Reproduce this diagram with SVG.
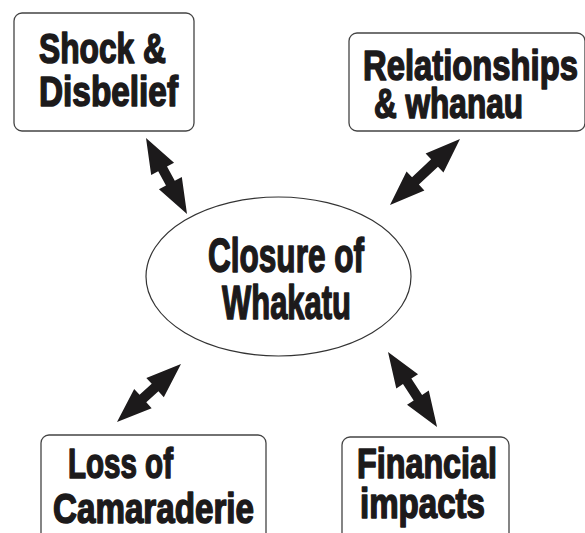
<svg xmlns="http://www.w3.org/2000/svg" width="585" height="533" viewBox="0 0 585 533">
<style>
.box{fill:#fff;stroke:#444;stroke-width:1.3}
.oval{fill:#fff;stroke:#333;stroke-width:1.2}
.t{font-family:"Liberation Sans",Arial,sans-serif;font-weight:bold;font-size:42px;fill:#1c1a1b;stroke:#1c1a1b;stroke-width:1.6;stroke-linejoin:round}
.tc{font-size:48px}
.arr{fill:#1c1a1b}
</style>
<rect width="585" height="533" fill="#fff"/>
<g id="connectors">
<path class="arr" transform="translate(146,138) rotate(61.65)" d="M0,0 L35,-13 L35,-5 L51.35,-5 L51.35,-13 L86.35,0 L51.35,13 L51.35,5 L35,5 L35,13 Z"/>
<path class="arr" transform="translate(460,139) rotate(136.7)" d="M0,0 L35,-13 L35,-5 L61.2,-5 L61.2,-13 L96.2,0 L61.2,13 L61.2,5 L35,5 L35,13 Z"/>
<path class="arr" transform="translate(181,364) rotate(137.8)" d="M0,0 L35,-13 L35,-5 L51.4,-5 L51.4,-13 L86.4,0 L51.4,13 L51.4,5 L35,5 L35,13 Z"/>
<path class="arr" transform="translate(388,352) rotate(56.8)" d="M0,0 L35,-13 L35,-5 L54.6,-5 L54.6,-13 L89.6,0 L54.6,13 L54.6,5 L35,5 L35,13 Z"/>
</g>
<g id="center">
<ellipse class="oval" cx="278.5" cy="276.5" rx="132.5" ry="79.5"/>
<text class="t tc" x="208" y="272" textLength="156" lengthAdjust="spacingAndGlyphs">Closure of</text>
<text class="t tc" x="222" y="319" textLength="129" lengthAdjust="spacingAndGlyphs">Whakatu</text>
</g>
<g id="shock">
<rect class="box" x="14" y="13" width="180" height="118" rx="8"/>
<text class="t" x="39" y="63" textLength="127" lengthAdjust="spacingAndGlyphs">Shock &amp;</text>
<text class="t" x="39" y="106" textLength="139" lengthAdjust="spacingAndGlyphs">Disbelief</text>
</g>
<g id="relationships">
<rect class="box" x="349" y="33" width="236" height="98" rx="8"/>
<text class="t" x="363" y="80" textLength="215" lengthAdjust="spacingAndGlyphs">Relationships</text>
<text class="t" x="374" y="118" textLength="149" lengthAdjust="spacingAndGlyphs">&amp; whanau</text>
</g>
<g id="loss">
<rect class="box" x="41" y="435" width="225" height="110" rx="8"/>
<text class="t" x="68" y="478" textLength="105" lengthAdjust="spacingAndGlyphs">Loss of</text>
<text class="t" x="53" y="523" textLength="201" lengthAdjust="spacingAndGlyphs">Camaraderie</text>
</g>
<g id="financial">
<rect class="box" x="342" y="437" width="167" height="110" rx="8"/>
<text class="t" x="357" y="478" textLength="140" lengthAdjust="spacingAndGlyphs">Financial</text>
<text class="t" x="360" y="518" textLength="125" lengthAdjust="spacingAndGlyphs">impacts</text>
</g>
</svg>
